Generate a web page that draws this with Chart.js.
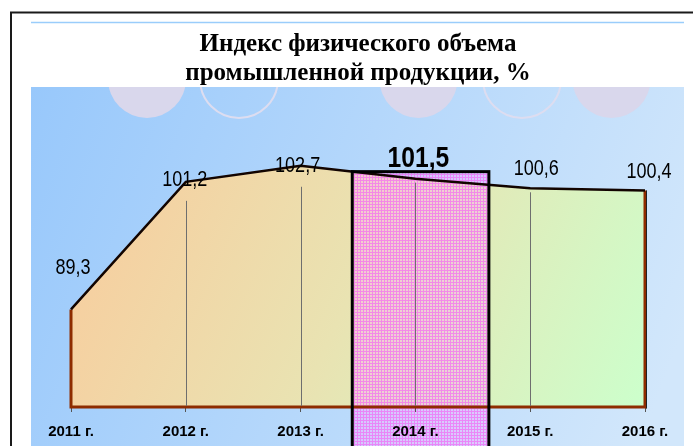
<!DOCTYPE html>
<html>
<head>
<meta charset="utf-8">
<script src="https://cdn.jsdelivr.net/npm/chart.js@4/dist/chart.umd.min.js"></script>
<style>
  html, body { margin: 0; padding: 0; background: #fff; }
  canvas { display: block; }
</style>
</head>
<body>
<canvas id="c" width="693" height="446"></canvas>
<script>
// ---- data ----
const years = ['2011 г.', '2012 г.', '2013 г.', '2014 г.', '2015 г.', '2016 г.'];
const values = [89.3, 101.2, 102.7, 101.5, 100.6, 100.4];
const titleLines = ['Индекс физического объема', 'промышленной продукции, %'];
const highlightIndex = 3;

// ---- styling ----
const SANS = '"Liberation Sans", Arial, sans-serif';
const labelOffsets = [[2, -41], [-1, -2], [-3, 0], [3, -20], [6, -19], [4, -18]];
const fmt = v => v.toFixed(1).replace('.', ',');

function makePattern(ctx) {
  const p = document.createElement('canvas');
  p.width = 3; p.height = 3;
  const g = p.getContext('2d');
  g.fillStyle = 'rgba(255,170,255,0.38)';
  g.fillRect(0, 0, 3, 3);
  g.fillStyle = 'rgba(245,90,245,0.6)';
  g.fillRect(0, 0, 3, 1);
  g.fillRect(0, 1, 1, 2);
  return ctx.createPattern(p, 'repeat');
}

function highlightRect(chart) {
  const meta = chart.getDatasetMeta(0);
  const xs = meta.data.map(p => p.x);
  const step = xs[1] - xs[0];
  const cx = xs[highlightIndex];
  const py = meta.data[highlightIndex].y;
  return { left: cx - 0.55 * step, right: cx + 0.64 * step, top: py + labelOffsets[highlightIndex][1] + 13, bottom: 452 };
}

const decor = {
  id: 'decor',
  beforeDraw(chart) {
    const ctx = chart.ctx;
    ctx.save();
    ctx.fillStyle = '#fff';
    ctx.fillRect(0, 0, 693, 446);
    // blue panel
    const pg = ctx.createLinearGradient(31, 87, 684, 330);
    pg.addColorStop(0, '#98C8FB');
    pg.addColorStop(1, '#D2E7FB');
    ctx.fillStyle = pg;
    ctx.fillRect(31, 87, 653, 359);
    // circles
    ctx.save();
    ctx.beginPath(); ctx.rect(31, 87, 653, 359); ctx.clip();
    const circ = [[147, true], [239, false], [418.5, true], [522, false], [611.5, true]];
    circ.forEach(([x, filled]) => {
      ctx.beginPath();
      ctx.arc(x, 79, 39, 0, Math.PI * 2);
      if (filled) { ctx.fillStyle = '#D9D7EC'; ctx.fill(); }
      else { ctx.strokeStyle = '#DDDDF0'; ctx.lineWidth = 2; ctx.stroke(); }
    });
    ctx.restore();
    // frame
    ctx.strokeStyle = '#1a1a1a';
    ctx.lineWidth = 2;
    ctx.beginPath();
    ctx.moveTo(11, 450); ctx.lineTo(11, 12.5); ctx.lineTo(700, 12.5);
    ctx.stroke();
    ctx.strokeStyle = '#9ACDFB';
    ctx.lineWidth = 1.5;
    ctx.beginPath(); ctx.moveTo(31, 22.5); ctx.lineTo(684, 22.5); ctx.stroke();
    // highlight pattern below plot
    const r = highlightRect(chart);
    const base = chart.chartArea.bottom;
    ctx.fillStyle = makePattern(ctx);
    ctx.fillRect(r.left, base, r.right - r.left, r.bottom - base);
    ctx.restore();
  },
  afterDatasetDraw(chart, args) {
    if (args.index !== 1) return;
    const ctx = chart.ctx;
    const meta = chart.getDatasetMeta(0);
    const pts = meta.data;
    const base = chart.chartArea.bottom;
    const r = highlightRect(chart);
    ctx.save();
    // pattern over plot
    ctx.fillStyle = makePattern(ctx);
    ctx.fillRect(r.left, r.top, r.right - r.left, base - r.top);
    // brown outline edges
    ctx.strokeStyle = '#8E2C00';
    ctx.lineWidth = 3;
    ctx.lineJoin = 'miter';
    ctx.beginPath();
    ctx.moveTo(pts[0].x, pts[0].y);
    ctx.lineTo(pts[0].x, base);
    ctx.lineTo(pts[pts.length - 1].x, base);
    ctx.lineTo(pts[pts.length - 1].x, pts[pts.length - 1].y);
    ctx.stroke();
    ctx.strokeStyle = '#222';
    ctx.lineWidth = 1;
    ctx.beginPath();
    ctx.moveTo(pts[pts.length - 1].x + 1.5, pts[pts.length - 1].y);
    ctx.lineTo(pts[pts.length - 1].x + 1.5, base + 1.5);
    ctx.stroke();
    // drop lines
    ctx.strokeStyle = '#6E6E6E';
    ctx.lineWidth = 1;
    for (let i = 1; i < pts.length - 1; i++) {
      const ly = pts[i].y + labelOffsets[i][1];
      const start = Math.max(ly + 21, pts[i].y + 4);
      ctx.beginPath();
      ctx.moveTo(Math.round(pts[i].x) + 0.5, start);
      ctx.lineTo(Math.round(pts[i].x) + 0.5, base - 1);
      ctx.stroke();
    }
    ctx.restore();
  },
  afterDatasetsDraw(chart) {
    const ctx = chart.ctx;
    const pts = chart.getDatasetMeta(0).data;
    const r = highlightRect(chart);
    ctx.save();
    ctx.strokeStyle = '#000';
    ctx.lineWidth = 3;
    ctx.strokeRect(r.left, r.top, r.right - r.left, r.bottom - r.top);
    ctx.fillStyle = '#000';
    ctx.textAlign = 'center';
    ctx.textBaseline = 'middle';
    values.forEach((v, i) => {
      const hi = i === highlightIndex;
      const x = pts[i].x + labelOffsets[i][0];
      const y = pts[i].y + labelOffsets[i][1];
      ctx.save();
      ctx.translate(x, y);
      ctx.scale(0.82, 1);
      ctx.font = (hi ? 'bold 30px ' : '22px ') + SANS;
      ctx.fillText(fmt(v), 0, 0);
      ctx.restore();
    });
    ctx.restore();
  }
};

new Chart(document.getElementById('c'), {
  type: 'line',
  data: {
    labels: years,
    datasets: [
      {
        data: values,
        borderColor: '#120400',
        borderWidth: 2.5,
        pointRadius: 0,
        tension: 0,
        fill: false,
        order: 0
      },
      {
        data: values,
        borderWidth: 0,
        pointRadius: 0,
        tension: 0,
        fill: 'start',
        order: 1,
        backgroundColor: (c) => {
          const a = c.chart.chartArea;
          if (!a) return 'rgba(0,0,0,0)';
          const g = c.chart.ctx.createLinearGradient(a.left, a.top + 60, a.right, a.bottom);
          g.addColorStop(0, '#F9CB9C');
          g.addColorStop(0.5, '#E9E3B2');
          g.addColorStop(1, '#CCFFCC');
          return g;
        }
      }
    ]
  },
  options: {
    responsive: false,
    animation: false,
    devicePixelRatio: 1,
    layout: { padding: { left: 71, right: 48, top: 0, bottom: -6 } },
    plugins: {
      legend: { display: false },
      tooltip: { enabled: false },
      title: {
        display: true,
        text: titleLines,
        color: '#000',
        font: { family: '"Liberation Serif", "Times New Roman", serif', size: 25, weight: 'bold', lineHeight: 1.15 },
        padding: { top: 30, bottom: 0 }
      }
    },
    scales: {
      x: {
        offset: false,
        border: { display: false },
        grid: { drawOnChartArea: false, drawTicks: true, tickLength: 5, color: '#555' },
        ticks: {
          color: '#000',
          padding: 11,
          autoSkip: false,
          maxRotation: 0,
          font: { family: SANS, size: 15, weight: 'bold' }
        }
      },
      y: { display: false, min: 80.2, max: 110 }
    }
  },
  plugins: [decor]
});
</script>
</body>
</html>
